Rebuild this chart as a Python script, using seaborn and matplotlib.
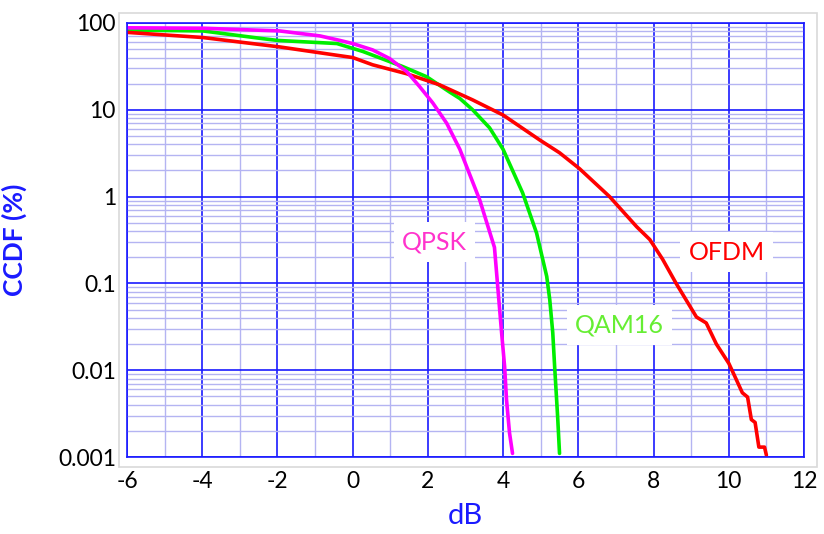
import matplotlib
matplotlib.use("Agg")
import matplotlib.pyplot as plt
from matplotlib.patches import Rectangle
from matplotlib.ticker import LogLocator, FixedLocator, NullFormatter
import numpy as np
import pandas as pd
import seaborn as sns

# CCDF of instantaneous power above average (dB) for three modulations
qpsk_db = [-6, -3.98, -1.94, -0.87, -0.34, 0.0, 0.53, 0.98, 1.44, 1.78, 2.13, 2.5,
           2.85, 3.38, 3.77, 3.85, 3.96, 4.04, 4.09, 4.17, 4.25]
qpsk_pct = [88, 87, 81, 71, 63, 58, 49, 39, 27.5, 18.5, 12, 7.0,
            3.5, 0.91, 0.26, 0.10, 0.027, 0.011, 0.0046, 0.0019, 0.0011]

qam16_db = [-6, -3.98, -2.39, -2.0, -0.42, 0.27, 1.33, 1.97, 2.58, 2.85, 3.19, 3.64,
            4.0, 4.52, 4.89, 5.16, 5.24, 5.32, 5.37, 5.45, 5.5]
qam16_pct = [83, 81, 66, 63, 58, 47, 31.5, 24, 16, 13.5, 10, 6.2,
             3.5, 1.1, 0.38, 0.12, 0.065, 0.027, 0.011, 0.0029, 0.0011]

ofdm_db = [-6, -3.98, -1.94, -0.34, 0, 0.53, 1.44, 2.31, 3.19, 4.0, 4.97, 5.5, 6.03,
           6.83, 7.55, 7.9, 8.24, 8.6, 9.14, 9.4, 9.67, 10.0, 10.2, 10.36, 10.5,
           10.6, 10.7, 10.8, 10.95, 11.0]
ofdm_pct = [78, 68, 53, 42, 40, 33, 26, 19.4, 13, 8.7, 4.5, 3.2, 2.1,
            1.0, 0.45, 0.32, 0.19, 0.10, 0.041, 0.035, 0.020, 0.012, 0.0078, 0.0055, 0.0049,
            0.0027, 0.0025, 0.0013, 0.0013, 0.00105]

x_ticks = [-6, -4, -2, 0, 2, 4, 6, 8, 10, 12]
y_ticks = [0.001, 0.01, 0.1, 1, 10, 100]
y_tick_labels = ["0.001", "0.01", "0.1", "1", "10", "100"]

series_names = ["QAM16", "OFDM", "QPSK"]
line_colors = {"QPSK": "#ff00ff", "QAM16": "#00ee00", "OFDM": "#ff0000"}
label_colors = {"QPSK": "#ff33cc", "QAM16": "#66ee33", "OFDM": "#ff0000"}
label_pos = {"QPSK": (2.18, 0.30), "QAM16": (7.09, 0.033), "OFDM": (9.94, 0.23)}

frames = [
    pd.DataFrame({"dB": qam16_db, "ccdf": qam16_pct, "signal": "QAM16"}),
    pd.DataFrame({"dB": ofdm_db, "ccdf": ofdm_pct, "signal": "OFDM"}),
    pd.DataFrame({"dB": qpsk_db, "ccdf": qpsk_pct, "signal": "QPSK"}),
]
df = pd.concat(frames, ignore_index=True)

sns.set_style("white")
plt.rcParams["font.family"] = ["Lato", "DejaVu Sans"]
plt.rcParams["axes.unicode_minus"] = False

fig = plt.figure(figsize=(8.24, 5.34), dpi=100)
W, H = 824, 534
ax = fig.add_axes([127 / W, 1 - 457 / H, (804 - 127) / W, (457 - 23) / H])

# light grey outer frame around the plot region
fig.patches.append(Rectangle((119 / W, 1 - 467 / H), (817 - 119) / W, (467 - 13) / H,
                             transform=fig.transFigure, fill=False,
                             edgecolor="#d9d9d9", linewidth=1.2, zorder=0))

ax.set_yscale("log")
ax.set_xlim(-6, 12)
ax.set_ylim(0.001, 100)

ax.xaxis.set_major_locator(FixedLocator(x_ticks))
ax.xaxis.set_minor_locator(FixedLocator(list(range(-5, 12, 2))))
ax.yaxis.set_major_locator(FixedLocator(y_ticks))
ax.yaxis.set_minor_locator(LogLocator(base=10, subs=np.arange(2, 10)))
ax.yaxis.set_minor_formatter(NullFormatter())
ax.set_yticklabels(y_tick_labels)

ax.grid(which="minor", color="#b4b4f2", linewidth=1.0)
ax.grid(which="major", color="#1a1aff", linewidth=1.2)
ax.set_axisbelow(True)

sns.lineplot(data=df, x="dB", y="ccdf", hue="signal", hue_order=series_names,
             palette=line_colors, sort=False, estimator=None, linewidth=2.6,
             legend=False, ax=ax)
for line in ax.get_lines():
    line.set_solid_joinstyle("round")
    line.set_solid_capstyle("round")

for name in ["QPSK", "QAM16", "OFDM"]:
    x, y = label_pos[name]
    ax.text(x, y, name, color=label_colors[name], fontsize=18, ha="center", va="center",
            bbox=dict(facecolor="white", edgecolor="none", pad=6), zorder=5)

for side in ["top", "bottom", "left", "right"]:
    ax.spines[side].set_color("#1a1aff")
    ax.spines[side].set_linewidth(1.2)

ax.tick_params(axis="both", which="both", length=0, labelsize=16.5, colors="black")
ax.tick_params(axis="x", pad=10)
ax.tick_params(axis="y", pad=8)

ax.set_xlabel("dB", color="#1a1aff", fontsize=21, labelpad=8)
ax.set_ylabel("CCDF (%)", color="#1a1aff", fontsize=19, fontweight="bold", labelpad=22)

fig.savefig("out.png", dpi=100)
